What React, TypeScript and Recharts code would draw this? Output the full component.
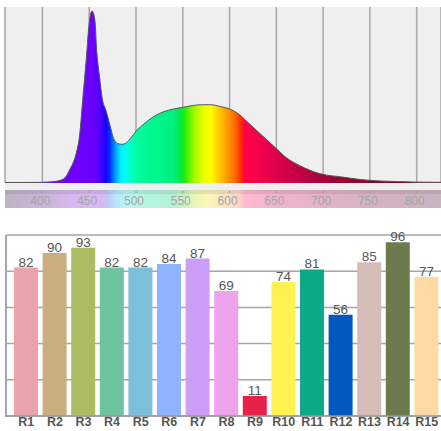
import { Area, AreaChart, Bar, BarChart, CartesianGrid, Cell, LabelList, XAxis, YAxis } from "recharts";

// spectrum (relative intensity)
const wavelengths = [
  360, 380, 400, 410, 420, 425, 429, 433, 436, 440, 443, 447, 450, 453, 456, 458, 461, 464, 468, 472,
  476, 480, 485, 490, 495, 500, 510, 520, 530, 540, 550, 560, 570, 580, 590, 600, 610, 620, 630, 640,
  650, 660, 670, 680, 690, 700, 720, 740, 760, 780, 800, 826,
];
const intensity = [
  0.003, 0.003, 0.004, 0.007, 0.017, 0.037, 0.076, 0.12, 0.17, 0.29, 0.48, 0.73, 0.93, 1.0, 0.95, 0.77,
  0.62, 0.49, 0.42, 0.34, 0.26, 0.23, 0.225, 0.235, 0.265, 0.3, 0.35, 0.39, 0.415, 0.43, 0.44, 0.45,
  0.455, 0.455, 0.445, 0.43, 0.4, 0.35, 0.3, 0.25, 0.2, 0.15, 0.115, 0.088, 0.065, 0.05, 0.035, 0.02,
  0.012, 0.008, 0.005, 0.004,
];
const wlTicks = [400, 450, 500, 550, 600, 650, 700, 750, 800];

// colour rendering indices
const criNames = ["R1", "R2", "R3", "R4", "R5", "R6", "R7", "R8", "R9", "R10", "R11", "R12", "R13", "R14", "R15"];
const criValues = [82, 90, 93, 82, 82, 84, 87, 69, 11, 74, 81, 56, 85, 96, 77];
const criColors = [
  "#e8a3ad", "#cbae80", "#abbd63", "#6dc5a0", "#7bbfdd", "#8fb3ff", "#cc9ef8", "#eda2ec",
  "#e8214b", "#fdf252", "#0daa88", "#0059bf", "#d6bcb8", "#6b7b4b", "#fcd9a5",
];
const criTicks = [0, 20, 40, 60, 80, 100];

const WL_MIN = 360;
const WL_MAX = 826;

const spectrum = wavelengths.map((wl, i) => ({ wl, v: intensity[i] }));
const cri = criNames.map((name, i) => ({ name, value: criValues[i] }));

const fillStops: [number, string][] = [
  [360, "#7a00ff"], [455, "#6a00ff"], [462, "#4a00ff"], [468, "#1800ff"], [472, "#0030ff"],
  [478, "#00a0ff"], [484, "#00f0ff"], [490, "#00ffee"], [497, "#00ffb0"], [505, "#00fb98"],
  [540, "#00f080"], [548, "#00e840"], [553, "#30ee00"], [562, "#a0f800"], [572, "#e8ff00"],
  [580, "#ffff00"], [586, "#ffd800"], [595, "#ffa800"], [605, "#ff7000"], [612, "#ff3000"],
  [616, "#ff0048"], [630, "#f4004c"], [660, "#d20048"], [700, "#a8003c"], [760, "#880030"],
  [826, "#800030"],
];

const stripStops: [number, string][] = [
  [360, "#bfb3c6"], [400, "#c9b5d9"], [430, "#d6b8ee"], [465, "#d8b8f2"], [470, "#c0c8f8"],
  [478, "#b8e4fa"], [490, "#b8f6f6"], [505, "#b4f6e2"], [540, "#b4f2d4"], [550, "#c4f2c0"],
  [562, "#e8f6b8"], [575, "#faf6b8"], [595, "#f8e6c4"], [610, "#fcd4c8"], [617, "#ffb8d0"],
  [650, "#f2b4ce"], [700, "#e2b2c8"], [750, "#d6b2c2"], [826, "#c8b4c0"],
];

const pct = (wl: number) => ((wl - WL_MIN) / (WL_MAX - WL_MIN)) * 100;

const stripBg = `linear-gradient(to right, ${stripStops.map(([wl, c]) => `${c} ${pct(wl).toFixed(2)}%`).join(", ")})`;

const WlTick = ({ x, y, payload }: any) => (
  <g>
    <line x1={x} x2={x} y1={y + 8} y2={y + 10} stroke="#999" strokeWidth={1} />
    <text x={x - 2} y={y + 21.5} textAnchor="middle" fill="#a4a4a4" fontSize={12}>
      {payload.value}
    </text>
  </g>
);

export default function App() {
  return (
    <div style={{ position: "absolute", left: 0, top: 0, width: 441, height: 431, fontFamily: "'Liberation Sans', Arial, sans-serif" }}>
      <div style={{ position: "absolute", left: 5, top: 7, width: 436, height: 183, background: "#efefef" }} />
      <div style={{ position: "absolute", left: 5, top: 190, width: 436, height: 18, background: stripBg }} />
      <div style={{ position: "absolute", left: 5, top: 190, width: 436, height: 4, background: "rgba(0,0,0,0.08)" }} />
      {/* left frame edge of the CRI panel */}
      <div style={{ position: "absolute", left: 5, top: 235, width: 2, height: 182, background: "#a6a6a6" }} />

      <div style={{ position: "absolute", left: 0, top: 0 }}>
        <AreaChart width={441} height={208} data={spectrum} margin={{ top: 7, right: 0, bottom: 0, left: 5 }}>
          <defs>
            <linearGradient id="spec" x1="0" y1="0" x2="1" y2="0">
              {fillStops.map(([wl, c]) => (
                <stop key={wl} offset={`${pct(wl)}%`} stopColor={c} />
              ))}
            </linearGradient>
          </defs>
          <CartesianGrid horizontal={false} stroke="#a6a6a6" strokeWidth={1.5} />
          <XAxis
            dataKey="wl"
            type="number"
            domain={[WL_MIN, WL_MAX]}
            ticks={wlTicks}
            height={25}
            axisLine={false}
            tickLine={false}
            tickSize={0}
            tickMargin={0}
            tick={<WlTick />}
          />
          <YAxis hide domain={[0, 1.0233]} allowDataOverflow />
          <Area
            type="monotone"
            dataKey="v"
            stroke="#555"
            strokeWidth={1}
            fill="url(#spec)"
            fillOpacity={1}
            isAnimationActive={false}
          />
        </AreaChart>
      </div>

      <div style={{ position: "absolute", left: 0, top: 215 }}>
        <BarChart width={441} height={216} data={cri} margin={{ top: 20, right: 0, bottom: 0, left: 6 }}>
          <CartesianGrid vertical={false} stroke="#a6a6a6" strokeWidth={1.5} />
          <XAxis
            dataKey="name"
            interval={0}
            height={15}
            padding={{ left: 6, right: 0 }}
            axisLine={{ stroke: "#999", strokeWidth: 1.5 }}
            tickLine={false}
            tickSize={0}
            tickMargin={1}
            tick={{ fill: "#555", fontSize: 12.5, fontWeight: "bold" }}
          />
          <YAxis hide domain={[0, 100]} ticks={criTicks} />
          <Bar dataKey="value" barSize={24} isAnimationActive={false}>
            {cri.map((d, i) => (
              <Cell key={d.name} fill={criColors[i]} />
            ))}
            <LabelList dataKey="value" position="top" offset={1} fill="#555" fontSize={13.5} />
          </Bar>
        </BarChart>
      </div>
    </div>
  );
}
